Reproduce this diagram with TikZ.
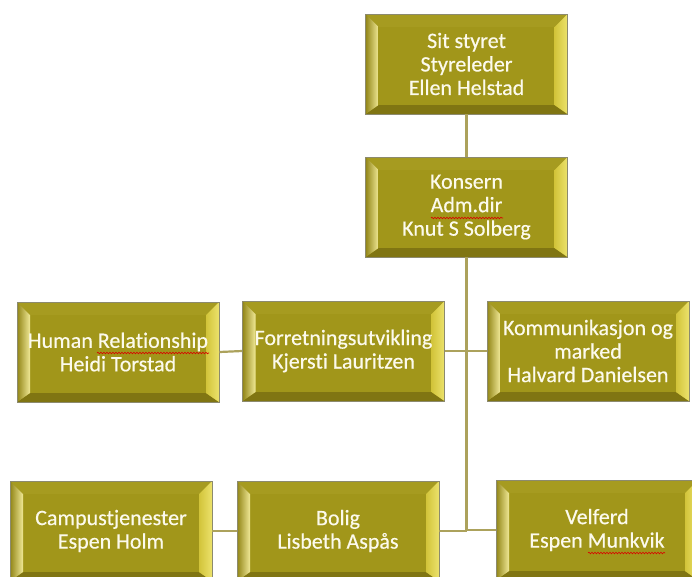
\documentclass[tikz,border=0pt]{standalone}
\usepackage{fontspec}
\setmainfont{Carlito}[Ligatures=NoCommon,FakeBold=0.4]
\usetikzlibrary{calc,decorations.pathmorphing}
\definecolor{faceC}{RGB}{161,150,26}
\definecolor{topC}{RGB}{166,155,32}
\definecolor{botC}{RGB}{128,117,18}
\definecolor{leftOut}{RGB}{145,133,22}
\definecolor{leftIn}{RGB}{240,232,150}
\definecolor{rightIn}{RGB}{210,196,58}
\definecolor{rightOut}{RGB}{236,226,108}
\definecolor{bordC}{RGB}{140,138,110}
\definecolor{lineC}{RGB}{172,162,92}
\definecolor{txtC}{RGB}{252,250,236}
\tikzset{
  bbox/.style={rectangle, draw=bordC, line width=0.6pt, fill=faceC,
    minimum width=202pt, minimum height=100pt, inner sep=0pt,
    align=center, text=txtC, font=\fontsize{22}{23.5}\selectfont,
    path picture={
      \coordinate (sw) at (path picture bounding box.south west);
      \coordinate (ne) at (path picture bounding box.north east);
      \coordinate (nw) at (sw |- ne);
      \coordinate (se) at (ne |- sw);
      \coordinate (isw) at ($(sw)+(13pt,9pt)$);
      \coordinate (ine) at ($(ne)+(-13pt,-13pt)$);
      \coordinate (inw) at (isw |- ine);
      \coordinate (ise) at (ine |- isw);
      \fill[topC] (nw) -- (ne) -- (ine) -- (inw) -- cycle;
      \fill[botC] (sw) -- (se) -- (ise) -- (isw) -- cycle;
      \fill[left color=leftOut, right color=leftIn] (sw) -- (nw) -- (inw) -- (isw) -- cycle;
      \fill[left color=rightIn, right color=rightOut] (se) -- (ne) -- (ine) -- (ise) -- cycle;
    }},
  conn/.style={draw=lineC, line width=2.2pt},
  squig/.style={draw=red!85!black, line width=0.6pt, decorate,
    decoration={snake, amplitude=0.8pt, segment length=3pt}}
}
\begin{document}
\begin{tikzpicture}[x=1pt,y=-1pt]
\useasboundingbox (0,0) rectangle (692,576);
\clip (0,0) rectangle (692,576);
\fill[white] (0,0) rectangle (692,576);
\node[bbox] (b1) at (466.5,64) {Sit styret\\Styreleder\\Ellen Helstad};
\node[bbox] (b2) at (466.5,207) {Konsern\\Adm.dir\\Knut S Solberg};
\node[bbox] (b3) at (118,352) {Human Relationship\\Heidi Torstad};
\node[bbox] (b4) at (343.5,351) {Forretningsutvikling\\Kjersti Lauritzen};
\node[bbox] (b5) at (588,351) {Kommunikasjon og\\marked\\Halvard Danielsen};
\node[bbox] (b6) at (111,531) {Campustjenester\\Espen Holm};
\node[bbox] (b7) at (338,531) {Bolig\\Lisbeth Aspås};
\node[bbox] (b8) at (597,530) {Velferd\\Espen Munkvik};
\draw[conn] (b1.south) -- (b2.north);
\draw[conn] (b2.south) -- (b2.south |- b7.east);
\draw[conn] (b4.east) -- (b4.east -| b2.south);
\draw[conn] (b2.south |- b5.west) -- (b5.west);
\draw[conn] (b3.east) -- (b4.west);
\draw[conn] (b7.east) -- (b7.east -| b2.south);
\draw[conn] (b2.south |- b8.west) -- (b8.west);
\draw[conn] (b6.east) -- (b7.west);
\draw[squig] (431,218) -- (503,218);
\draw[squig] (97,353) -- (209,353);
\draw[squig] (588,553) -- (665,553);
\end{tikzpicture}
\end{document}
